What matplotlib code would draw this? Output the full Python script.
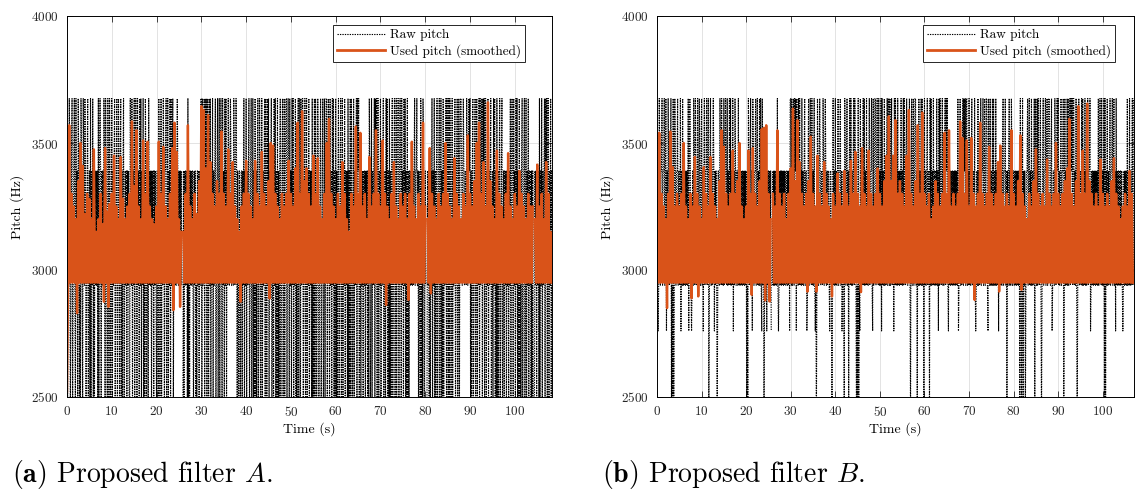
import numpy as np
import matplotlib
matplotlib.use("Agg")
import matplotlib.pyplot as plt

plt.rcParams["font.family"] = "cmr10"
plt.rcParams["mathtext.fontset"] = "cm"
plt.rcParams["axes.formatter.use_mathtext"] = True

# raw pitch is quantised to a few bins, coded by letter (Hz); N = dropout
raw_levels = {"T": 3675, "H": 3390, "M": 2940, "m": 2760, "L": 2400, "N": np.nan}
raw_step = 0.125     # s, raw samples
smooth_step = 0.25   # s, smoothed samples

# one 8-letter group per second
raw_codes_a = (
    "TLHMTHLM HTLMHTML TMHLTHLM LTHMLTHM THLMHTLM HLTLHMTL HLHMHMHL TLHTHLHM HMTHLTHM LTHLTHLM "
    "TLHMHTLM HTLMTHLH TLHLHTLM HMHLHMHL LTHMTLHM TLHTHLTM HLTMTLHM TLHLTHLM HLTMHMHL HMHLHMHM "
    "LHMLTHLM TLHMTHLH HTLMTLHM TLTMHTLH HMHMHTHM HMHMHMNL HLHMHMHL TLHLHMHM HMLHMHLM LHMHLHMT "
    "TLTMHTLT HTLTHLTM TLHMTLHM HTLMHTLH TLHTHLTM HLTMTLHM THMHTHMH HMTHMHTH LHMLHMLH HLHMTLHM "
    "TLHMHTLM HTLMTLHL TLHLHTLM THLMTLHM HTLTHLTM TLHMHTLM HLTMTLHL TLHLHTLM HTLMTLHT TLHTHLTM "
    "HLTMTLHM TLHLHTLT TLTMHTLM HTLMTLHM TLHMHLTL HLTLTHLM THLMHTLM HTLMTLHT TLHTHLTM HLTMTLHL "
    "TLHLHTLM HTLMTLHM TLHMHLTL HLTLTHLM TLHMHTLT HTLMHLHM HLHMHLHM HLHLTHLM TLHMHTLT HTLTTLHM "
    "TLHMHTLM HLTMTLHL TLHLHTLM HTLMTLHT TLHTHLTM HLTMTLHL TLHLHMHM HMHMHTMH HTMHLHML TLHLTHLM "
    "HMNLHMHL HLHMTLHM TLHLHTLM HTLMTLHL TLHMHTLT HLTLTHLM TLHMHTLM HTLMTLHT THMHTHMH HMTHMHTH "
    "TLHLHTLM HTLMTLHM TLTMHTLT HTLTTLHM TLHMHTLM HLTMTLHL TLHLHTLM HTLMHLHM HLHMHLHM TLHTHLTM "
    "HLTMTLHL TLHLHTLM HTLMTLHM TLHMHLHL HLNLHMHL HMHLTLHM TLHMHTLT HTLTTLHM TLHM"
)
raw_codes_b = (
    "TMmMTHMH HTMHHTMH TmHMTHMH HTLMLTLM THMHHTMH HMTmHMTM HMHMHMHM TmHTHMmM HMTHMTHM MTHMTHMH "
    "TMHmHTMH HTMHTLMH TMHMHTHm HMHMLMHM MTHMTMHM TMHTHMTM HMTMTMHM TmHMTHMH HMTMHMHM HMHMHMHM "
    "HLMLTHMH TMHmTHMH HTMHTMHM TMTMmTMH LMHMHmHM HMHMHmNM HMHMHMHM TMmMHMHM HMHMHMHM MHMHMHmT "
    "TMTMHTMT HTmTHMTM TMHMTMHM HTMHHmMH TMHTHMTM HMTMmMLM THMHTHMH HMTHMHTH MHMHHMmH HMLMTMHM "
    "TMHMHTMH HTMHmMHM LTHMHTMH LHTMTMHM HTMTHMLM LTLMmTMH HMTMTMHM TMHMHTMH HTMmTMHT TMHTHMTM "
    "HMTmTMHM TMHMHTMT TMTMHTMH HmTMTMHM TMHMHMTM HMTMTHMH THMHHTML HTMHTMHT TMHLHMTM HMTMTMHL "
    "TMHMHTMH HLTMTMHM TMHMHMTM HmTMTHMH TMHMHTMT HTMmHMHM HMHMHMHM HMHMTmMH TMHMHTMT HTMTTMHM "
    "TMHMHTMH HMTMmMHM TMHMHTMH HTMHTMHT TMmTHMTM HMTMTMHM TMHMHmHM HMHMHTMH HTMHLHMH TMHMTHMH "
    "HMHMHMHM HMHLTMLM TLHMHLMH HTMHTMHM TMHMHTLT HMTMTHMH TMLMHTMH HTMHTMHT THMHTmMH HMTHMHTH "
    "TMHMHTMH HTLMTMHM TMTMHTMT HTMTTMHM TMLMHTMH HMTMTMHM TMHMHTMH HTmMHMHM HMHMHMHM TMHTHMTM "
    "HMTLTLHM TMHMHTMH HTMHTMHm TMHMHMHM HMHMmMHM HMHMTMHM TMHMHTMT"
)

# smoothed pitch: upper swing every 0.5 s (Hz)
smooth_peaks_a = [
    2520, 3570, 3300, 3250, 3200, 3350, 3500, 3410, 3220, 3300,
    3280, 3200, 3475, 3150, 3200, 3300, 3180, 3480, 3230, 3260,
    3300, 3450, 3250, 3200, 3445, 3280, 3200, 3250, 3300, 3585,
    3330, 3550, 3250, 3200, 3510, 3300, 3505, 3250, 3200, 3180,
    3250, 3505, 3300, 3485, 3250, 3200, 3300, 3480, 3580, 3465,
    3200, 3150, 3150, 3300, 3570, 3250, 3200, 3300, 3220, 3350,
    3645, 3630, 3400, 3610, 3425, 3300, 3250, 3350, 3300, 3545,
    3300, 3250, 3475, 3300, 3425, 3250, 3200, 3150, 3250, 3300,
    3430, 3300, 3250, 3200, 3430, 3300, 3250, 3465, 3300, 3250,
    3350, 3500, 3490, 3300, 3250, 3200, 3300, 3250, 3300, 3430,
    3300, 3250, 3400, 3580, 3300, 3625, 3350, 3400, 3300, 3250,
    3450, 3300, 3440, 3250, 3200, 3300, 3500, 3595, 3300, 3250,
    3200, 3300, 3250, 3425, 3300, 3200, 3150, 3300, 3250, 3565,
    3300, 3540, 3250, 3300, 3200, 3445, 3250, 3300, 3550, 3300,
    3250, 3510, 3300, 3250, 3200, 3300, 3425, 3250, 3200, 3300,
    3250, 3300, 3200, 3300, 3505, 3250, 3200, 3300, 3250, 3580,
    3250, 3200, 3480, 3300, 3250, 3200, 3300, 3250, 3300, 3500,
    3300, 3250, 3200, 3440, 3300, 3250, 3200, 3300, 3250, 3530,
    3300, 3250, 3350, 3500, 3580, 3300, 3425, 3250, 3660, 3350,
    3250, 3200, 3470, 3300, 3250, 3200, 3300, 3460, 3250, 3200,
    3300, 3250, 3390, 3300, 3250, 3200, 3300, 3250, 3250, 3200,
    3415, 3250, 3300, 3200, 3425, 3300, 3150,
]
smooth_peaks_b = [
    3210, 3540, 3300, 3250, 3200, 3300, 3545, 3405, 3250, 3300,
    3250, 3300, 3500, 3250, 3200, 3300, 3250, 3445, 3300, 3250,
    3200, 3405, 3300, 3250, 3445, 3300, 3250, 3200, 3350, 3550,
    3485, 3300, 3250, 3300, 3470, 3300, 3350, 3500, 3250, 3200,
    3250, 3470, 3300, 3480, 3300, 3250, 3350, 3555, 3560, 3570,
    3300, 3200, 3300, 3250, 3550, 3300, 3250, 3300, 3200, 3300,
    3400, 3635, 3350, 3590, 3425, 3300, 3250, 3300, 3350, 3525,
    3300, 3250, 3450, 3300, 3250, 3425, 3300, 3250, 3200, 3300,
    3250, 3380, 3300, 3250, 3390, 3300, 3250, 3430, 3300, 3465,
    3300, 3250, 3480, 3300, 3250, 3470, 3300, 3250, 3300, 3400,
    3300, 3250, 3350, 3450, 3605, 3350, 3450, 3590, 3300, 3350,
    3300, 3250, 3450, 3630, 3300, 3250, 3350, 3570, 3300, 3620,
    3300, 3250, 3300, 3200, 3250, 3350, 3300, 3250, 3300, 3540,
    3300, 3550, 3250, 3300, 3250, 3300, 3585, 3520, 3300, 3510,
    3250, 3520, 3300, 3250, 3300, 3580, 3300, 3250, 3300, 3485,
    3300, 3250, 3300, 3425, 3490, 3300, 3250, 3300, 3250, 3550,
    3300, 3250, 3350, 3530, 3300, 3250, 3200, 3300, 3250, 3350,
    3475, 3300, 3250, 3300, 3250, 3435, 3300, 3250, 3300, 3500,
    3300, 3250, 3300, 3350, 3400, 3595, 3300, 3250, 3350, 3645,
    3300, 3470, 3300, 3655, 3350, 3300, 3250, 3300, 3250, 3435,
    3300, 3250, 3300, 3250, 3350, 3440, 3300, 3250, 3200, 3250,
    3300, 3250, 3390, 3300,
]
# lower swing sits on the floor except for these dips (time s: Hz, nan = gap)
smooth_floor = 2950
smooth_dips_a = {2.25: 2830, 8.25: 2875, 9.25: 2855, 23.75: 2842, 25.25: 2855,
                 25.75: np.nan, 38.75: 2875, 45.25: 2888, 71.25: 2862,
                 76.25: 2882, 80.25: np.nan, 81.25: 2908, 104.25: np.nan}
smooth_dips_b = {2.25: 2850, 7.75: 2889, 9.25: 2896, 21.25: 2902, 24.25: 2880,
                 25.25: 2876, 25.75: np.nan, 33.75: 2915, 35.75: 2915,
                 39.25: 2896, 45.75: 2913, 71.25: 2882, 76.75: 2915, 81.75: 2922}

orange = "#D95319"


def draw_panel(ax, raw_codes, peaks, dips, xmax, legend_x):
    raw = np.array([raw_levels[c] for c in raw_codes.replace(" ", "")], dtype=float)
    t_raw = np.arange(len(raw)) * raw_step

    lows = np.full(len(peaks), smooth_floor, dtype=float)
    for t, v in dips.items():
        lows[int(round((t - smooth_step) / (2 * smooth_step)))] = v
    smooth = np.empty(2 * len(peaks))
    smooth[0::2] = peaks
    smooth[1::2] = lows
    t_smooth = np.arange(len(smooth)) * smooth_step

    ax.plot(t_raw, raw, linestyle=(0, (1.2, 1.0)), color="k", lw=0.8, label="Raw pitch")
    ax.plot(t_smooth, smooth, "-", color=orange, lw=1.7, label="Used pitch (smoothed)")

    ax.set_xlim(0, xmax)
    ax.set_ylim(2500, 4000)
    ax.set_xticks(np.arange(0, 101, 10))
    ax.set_yticks([2500, 3000, 3500, 4000])
    ax.grid(True, color="#dedede", lw=0.6)
    ax.set_axisbelow(True)
    ax.tick_params(direction="in", top=True, right=True, length=4, width=0.6,
                   labelsize=9.5, pad=6, colors="#262626")
    for s in ax.spines.values():
        s.set_linewidth(0.7)
    ax.set_xlabel("Time (s)", fontsize=10, labelpad=2)
    ax.set_ylabel("Pitch (Hz)", fontsize=10, labelpad=5)

    leg = ax.legend(loc="upper right", bbox_to_anchor=(legend_x, 0.976),
                    borderaxespad=0, fontsize=9.5, fancybox=False,
                    framealpha=1, edgecolor="#262626", handlelength=3.6,
                    borderpad=0.3, labelspacing=0.25, handletextpad=0.4)
    leg.get_frame().set_linewidth(0.7)
    leg.get_lines()[0].set_linewidth(0.8)
    leg.get_lines()[1].set_linewidth(2)


fig = plt.figure(figsize=(11.35, 4.91), dpi=100)
ax_a = fig.add_axes([67 / 1135, 94 / 491, 485 / 1135, 381 / 491])
ax_b = fig.add_axes([657 / 1135, 94 / 491, 477 / 1135, 381 / 491])

draw_panel(ax_a, raw_codes_a, smooth_peaks_a, smooth_dips_a, 108.3, 0.944)
draw_panel(ax_b, raw_codes_b, smooth_peaks_b, smooth_dips_b, 107.0, 0.960)

fig.text(12 / 1135, 9 / 491, r"$\mathbf{(a)}$ Proposed filter $A$.", fontsize=20)
fig.text(602 / 1135, 9 / 491, r"$\mathbf{(b)}$ Proposed filter $B$.", fontsize=20)

fig.savefig("out.png", dpi=100)
